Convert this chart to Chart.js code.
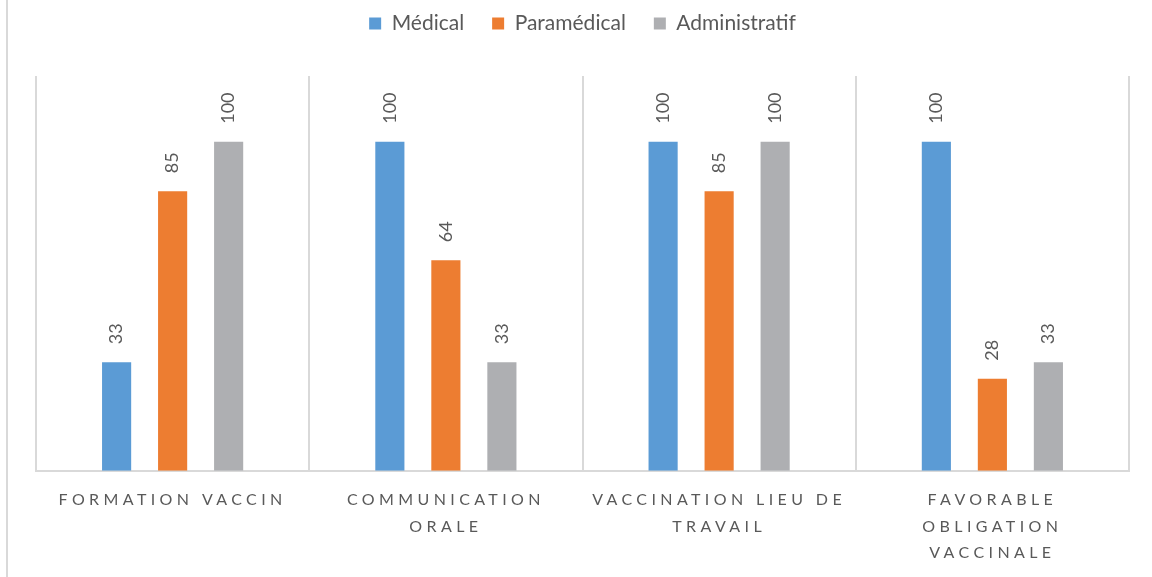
<!DOCTYPE html>
<html>
<head>
<meta charset="utf-8">
<script src="https://cdn.jsdelivr.net/npm/chart.js@4"></script>
<style>
  html, body { margin: 0; padding: 0; background: #fff; }
  #wrap { position: relative; width: 1152px; height: 577px; }
  #frame { position: absolute; left: 6px; top: 0; width: 2px; height: 577px; background: #d9d9d9; }
</style>
</head>
<body>
<div id="wrap">
  <div id="frame"></div>
  <canvas id="myChart" width="1152" height="577"></canvas>
</div>
<script>
var categories = [
  "FORMATION VACCIN",
  ["COMMUNICATION", "ORALE"],
  ["VACCINATION LIEU DE", "TRAVAIL"],
  ["FAVORABLE", "OBLIGATION", "VACCINALE"]
];
var medical = [33, 100, 100, 100];
var paramedical = [85, 64, 85, 28];
var administratif = [100, 33, 100, 33];

var textGrey = "#595959";

// rotated value labels above each bar
var valueLabels = {
  id: "valueLabels",
  afterDatasetsDraw: function (chart) {
    var ctx = chart.ctx;
    chart.data.datasets.forEach(function (ds, i) {
      chart.getDatasetMeta(i).data.forEach(function (bar, j) {
        ctx.save();
        ctx.translate(bar.x, bar.y - 18);
        ctx.rotate(-Math.PI / 2);
        ctx.font = "18px Lato";
        ctx.fillStyle = textGrey;
        ctx.textAlign = "left";
        ctx.textBaseline = "middle";
        ctx.fillText(ds.data[j], 0, 0);
        ctx.restore();
      });
    });
    // x tick labels are drawn after this (z = 1), spaced out like the original
    ctx.letterSpacing = "4.4px";
  },
  afterDraw: function (chart) {
    chart.ctx.letterSpacing = "0px";
  }
};

// push the plot down below the legend
var legendGap = {
  id: "legendGap",
  beforeInit: function (chart) {
    var fit = chart.legend.fit;
    chart.legend.fit = function () {
      fit.bind(chart.legend)();
      this.height += 32;
    };
  }
};

new Chart("myChart", {
  type: "bar",
  data: {
    labels: categories,
    datasets: [
      { label: "Médical", data: medical, backgroundColor: "#5B9BD5" },
      { label: "Paramédical", data: paramedical, backgroundColor: "#ED7D31" },
      { label: "Administratif", data: administratif, backgroundColor: "#AEAFB2" }
    ]
  },
  options: {
    responsive: false,
    animation: false,
    categoryPercentage: 0.615,
    barPercentage: 0.52,
    layout: { padding: { left: 36, right: 23, top: -15, bottom: -5 } },
    plugins: {
      legend: {
        position: "top",
        labels: {
          boxWidth: 12,
          boxHeight: 12,
          padding: 28,
          color: textGrey,
          font: { family: "Lato", size: 21 }
        }
      },
      tooltip: { enabled: false }
    },
    scales: {
      x: {
        grid: { display: true, offset: true, color: "#d9d9d9", lineWidth: 2, drawTicks: false },
        border: { display: true, color: "#d9d9d9", width: 2 },
        ticks: {
          z: 1,
          color: textGrey,
          padding: 16,
          maxRotation: 0,
          autoSkip: false,
          font: { family: "Lato", size: 16, lineHeight: 1.65 }
        }
      },
      y: {
        display: false,
        min: 0,
        max: 120,
        grid: { display: false }
      }
    }
  },
  plugins: [valueLabels, legendGap]
});
</script>
</body>
</html>
